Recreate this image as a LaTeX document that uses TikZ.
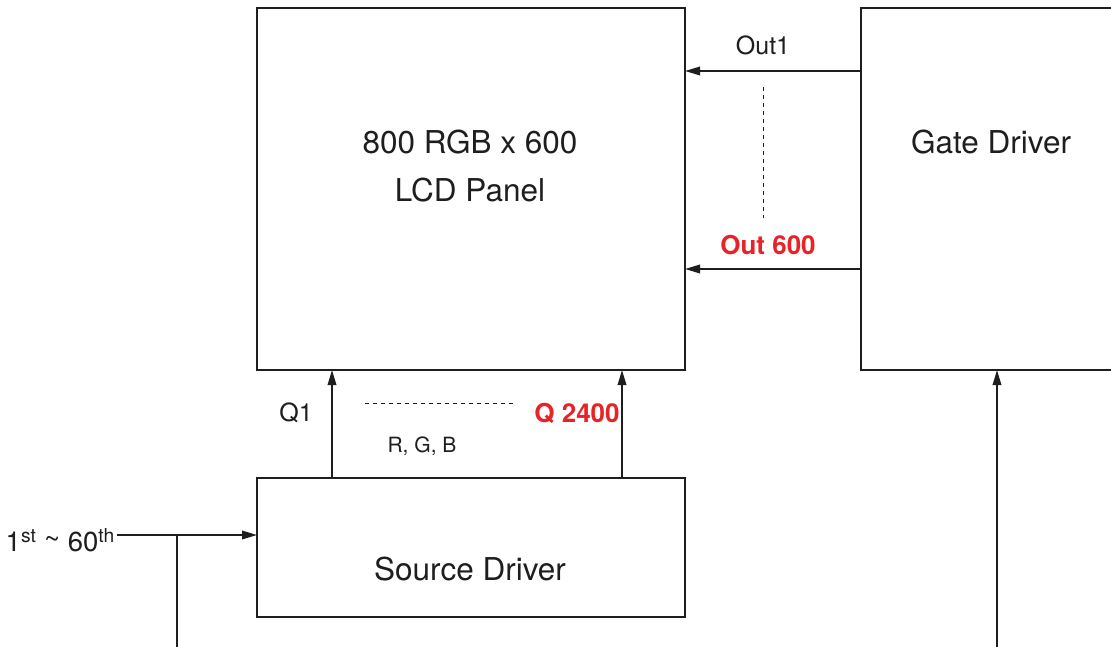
\documentclass[tikz,border=0pt]{standalone}
\usepackage{fontspec}
\setmainfont{TeX Gyre Heros}
\usetikzlibrary{arrows.meta}
\definecolor{sigred}{RGB}{232,34,38}
\definecolor{ink}{RGB}{30,30,30}
\tikzset{
  blk/.style={draw=ink, line width=1.6pt, minimum width=#1, inner sep=0pt, outer sep=0pt},
  sig/.style={draw=ink, line width=1.8pt, -{Triangle[length=15pt,width=8.5pt]}},
  wire/.style={draw=ink, line width=1.8pt},
  dots/.style={draw=ink, line width=1pt, dash pattern=on 4pt off 4pt},
  big/.style={font=\fontsize{31.5}{36}\selectfont, text=ink, inner sep=0pt},
  mid/.style={font=\fontsize{25}{30}\selectfont, text=ink, inner sep=0pt},
  small/.style={font=\fontsize{21}{25}\selectfont, text=ink, inner sep=0pt},
  redlab/.style={font=\fontsize{26}{30}\selectfont\bfseries, text=sigred, inner sep=0pt},
}
\begin{document}
\begin{tikzpicture}[x=1pt,y=-1pt]
\useasboundingbox (0,0) rectangle (1111,646);
\clip (0,0) rectangle (1111,646);
% blocks
\node[blk=428pt, minimum height=362pt] (lcd) at (471,189) {};
\node[blk=264pt, minimum height=362pt] (gate) at (993,189) {};
\node[blk=428pt, minimum height=139pt] (src) at (471,547.5) {};
% block texts
\node[big] (t1) at (470,142) {800 RGB x 600};
\node[big] (t2) at (470,190) {LCD Panel};
\node[big] (t3) at (991,142) {Gate Driver};
\node[big] (t4) at (470,569) {Source Driver};
% gate outputs
\draw[sig] (gate.west |- 0,71) -- (lcd.east |- 0,71);
\draw[sig] (gate.west |- 0,269) -- (lcd.east |- 0,269);
\node[mid] (out1) at (763,45) {Out1};
\node[redlab] (out600) at (768,245) {Out 600};
\coordinate (vd1) at (763,87);
\coordinate (vd2) at (763,218);
\draw[dots] (vd1) -- (vd2);
% source outputs
\draw[sig] (src.north -| 332,0) -- (lcd.south -| 332,0);
\draw[sig] (src.north -| 622,0) -- (lcd.south -| 622,0);
\node[mid] (q1) at (296,413) {Q1};
\node[redlab] (q2400) at (577,413) {Q 2400};
\node[small] (rgb) at (422,446) {R, G, B};
\coordinate (hd1) at (365,403);
\coordinate (hd2) at (517,403);
\draw[dots] (hd1) -- (hd2);
% input
\node[font=\fontsize{27.5}{32}\selectfont, text=ink, inner sep=0pt, anchor=east, inner xsep=2pt] (inp) at (117,540) {1\textsuperscript{st} \raisebox{3pt}{\textasciitilde} 60\textsuperscript{th}};
\coordinate (br) at (177,535);
\coordinate (bot) at (177,650);
\draw[sig] (inp.east |- 0,535) -- (src.west |- 0,535);
\draw[wire] (br) -- (bot);
% gate input
\coordinate (gin) at (997,650);
\draw[sig] (gin) -- (gate.south -| gin);
\end{tikzpicture}
\end{document}
